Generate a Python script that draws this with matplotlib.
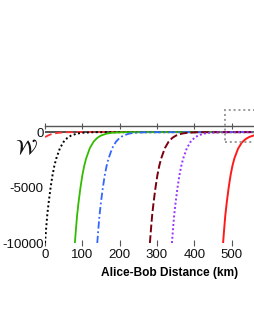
import matplotlib
matplotlib.use("Agg")
import matplotlib.pyplot as plt
from matplotlib.patches import Rectangle

plt.rcParams['font.family'] = ['Liberation Sans', 'DejaVu Sans']

# ---- data ----
red_dash_d = [0, 8, 15, 23, 30, 38, 50, 68, 90, 600]
red_dash_w = [-450, -310, -210, -140, -95, -60, -30, -10, 0, 0]

black_d = [0, 3, 6, 10, 15, 20, 25, 30, 40, 50, 60, 70, 85, 100, 130, 600]
black_w = [-10000, -8700, -7500, -6300, -5000, -3900, -3050, -2400, -1450, -870, -520, -310, -140, -60, -10, 0]

green_d = [80, 83, 86, 90, 95, 100, 105, 110, 120, 130, 140, 150, 165, 180, 210, 600]
green_w = [-10000, -8700, -7500, -6300, -5000, -3900, -3050, -2400, -1450, -870, -520, -310, -140, -60, -10, 0]

blue_d = [140, 143, 146, 150, 155, 160, 165, 170, 180, 190, 200, 210, 225, 240, 270, 600]
blue_w = [-10000, -8700, -7500, -6300, -5000, -3900, -3050, -2400, -1450, -870, -520, -310, -140, -60, -10, 0]

maroon_d = [281, 284, 287, 291, 296, 301, 306, 311, 321, 331, 341, 351, 366, 381, 411, 600]
maroon_w = [-10000, -8700, -7500, -6300, -5000, -3900, -3050, -2400, -1450, -870, -520, -310, -140, -60, -10, 0]

purple_d = [340, 343, 346, 350, 355, 360, 365, 370, 380, 390, 400, 410, 425, 440, 470, 600]
purple_w = [-10000, -8700, -7500, -6300, -5000, -3900, -3050, -2400, -1450, -870, -520, -310, -140, -60, -10, 0]

red_d = [477, 480, 483, 487, 492, 497, 502, 507, 517, 527, 537, 547, 562, 580, 600]
red_w = [-10000, -8700, -7500, -6300, -5000, -3900, -3050, -2400, -1500, -950, -640, -440, -270, -150, -80]

x_ticks = [0, 100, 200, 300, 400, 500]
y_ticks = [0, -5000, -10000]
y_ticklabels = ['0', '-5000', '-10000']
x_label = 'Alice-Bob Distance (km)'
y_label = r'$\mathcal{W}$'

# ---- figure ----
W, H = 255, 330
fig = plt.figure(figsize=(W / 100, H / 100), dpi=100)
left = 45 / W
bottom = (H - 243) / H
top = (H - 126) / H
ax = fig.add_axes([left, bottom, 224 / W, top - bottom])

ax.axhline(0, color='#333333', lw=1.2, zorder=1)

ax.plot(red_dash_d, red_dash_w, color='#ff3333', lw=1.3, ls=(0, (4, 2)), zorder=3)
ax.plot(black_d, black_w, color='black', lw=1.4, ls=(0, (1, 1.3)), zorder=3)
ax.plot(green_d, green_w, color='#33bb00', lw=1.3, ls='-', zorder=3)
ax.plot(blue_d, blue_w, color='#3366ff', lw=1.3, ls=(0, (4, 1.5, 1, 1.5)), zorder=3)
ax.plot(maroon_d, maroon_w, color='#7a0010', lw=1.4, ls=(0, (4, 1.5)), zorder=3)
ax.plot(purple_d, purple_w, color='#9933ff', lw=1.4, ls=(0, (1, 1.2)), zorder=3)
ax.plot(red_d, red_w, color='#ff1a1a', lw=1.4, ls='-', zorder=3)

ax.set_xlim(0, 600)
ax.set_ylim(-10000, 550)

for s in ['left', 'bottom', 'right']:
    ax.spines[s].set_visible(False)
ax.spines['top'].set_color('#555555')
ax.spines['top'].set_linewidth(1.0)

ax.set_xticks(x_ticks)
ax.set_xticklabels([str(t) for t in x_ticks])
ax.set_yticks(y_ticks)
ax.set_yticklabels(y_ticklabels)
ax.tick_params(axis='x', which='both', direction='inout', length=4, width=0.8,
               color='#555555', top=True, labelsize=9.5, pad=2, labelcolor='#111111')
ax.tick_params(axis='y', length=0, pad=1, labelsize=9.5, labelcolor='#111111')
for lab in ax.get_yticklabels() + ax.get_xticklabels():
    lab.set_fontweight('medium')

ax.set_xlabel(x_label, fontsize=8.6, fontweight='bold', labelpad=3)
ax.xaxis.set_label_coords((170 - 45) / 224, -24 / 117)

fig.text(26 / W, 1 - 149 / H, y_label, fontsize=15, ha='center', va='center', color='#111111')

# dotted inset marker rectangle
rect = Rectangle((482, -900), 300, 2900, fill=False, edgecolor='#999999', lw=1.4,
                 ls=(0, (1, 1.5)), clip_on=False, zorder=4)
ax.add_patch(rect)

fig.savefig('out.png', dpi=100, facecolor='white')
